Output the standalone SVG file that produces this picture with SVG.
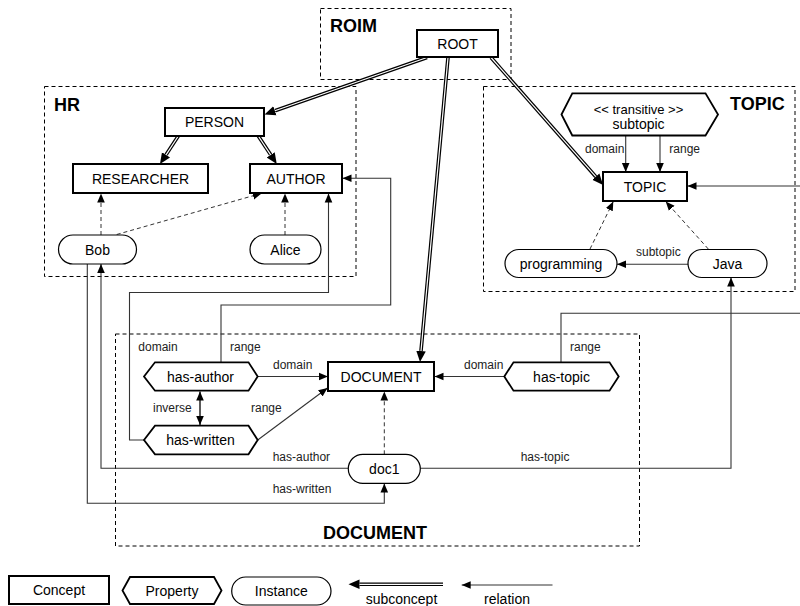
<svg xmlns="http://www.w3.org/2000/svg" width="800" height="606" viewBox="0 0 800 606">
<style>
text{font-family:"Liberation Sans",Arial,sans-serif;fill:#000}
.lbl{font-size:14px;text-anchor:middle}
.sm{font-size:12px;fill:#222}
.reg{font-size:18px;font-weight:bold}
.region{fill:none;stroke:#000;stroke-width:1;stroke-dasharray:4,3}
.concept{fill:#fff;stroke:#000;stroke-width:2}
.prop{fill:#fff;stroke:#000;stroke-width:1.8;stroke-linejoin:miter}
.inst{fill:#fff;stroke:#000;stroke-width:1.2}
.rel{fill:none;stroke:#333;stroke-width:1.1;marker-end:url(#arr)}
.inv{fill:none;stroke:#000;stroke-width:1.3;marker-end:url(#arr);marker-start:url(#arrs)}
.io{fill:none;stroke:#333;stroke-width:1;stroke-dasharray:4,3;marker-end:url(#arr)}
.subo{fill:none;stroke:#000;stroke-width:3.6;marker-end:url(#sub)}
.subi{fill:none;stroke:#fff;stroke-width:1.2}
</style>
<defs>
<marker id="arr" viewBox="0 -5 10 10" refX="9" refY="0" markerWidth="10" markerHeight="10" markerUnits="userSpaceOnUse" orient="auto"><path d="M0,-3.8 L9,0 L0,3.8 z" fill="#000"/></marker>
<marker id="arrs" viewBox="0 -5 10 10" refX="9" refY="0" markerWidth="10" markerHeight="10" markerUnits="userSpaceOnUse" orient="auto-start-reverse"><path d="M0,-3.8 L9,0 L0,3.8 z" fill="#000"/></marker>
<marker id="sub" viewBox="0 -6 12 12" refX="0" refY="0" markerWidth="12" markerHeight="12" markerUnits="userSpaceOnUse" orient="auto"><path d="M0,-4.8 L11,0 L0,4.8 z" fill="#000"/></marker>
</defs>

<g id="regions">
<rect class="region" x="320.5" y="8.5" width="190.5" height="71"/>
<text class="reg" x="330" y="32">ROIM</text>
<rect class="region" x="44.5" y="86.5" width="311.5" height="190"/>
<text class="reg" x="54" y="110.5">HR</text>
<rect class="region" x="483.5" y="86.5" width="311.5" height="205"/>
<text class="reg" x="730" y="110">TOPIC</text>
<rect class="region" x="115.5" y="334" width="524" height="212"/>
<text class="reg" x="323" y="539">DOCUMENT</text>
</g>

<g id="connectors">
<!-- subconcept -->
<path class="subo" d="M427,57.5 L274.9,110.8"/><path class="subi" d="M427,57.5 L274.9,110.8"/>
<path class="subo" d="M448,57.5 L421,351"/><path class="subi" d="M448,57.5 L421,351"/>
<path class="subo" d="M491,57.5 L595.8,176.7"/><path class="subi" d="M491,57.5 L595.8,176.7"/>
<path class="subo" d="M178.3,136 L166,154.8"/><path class="subi" d="M178.3,136 L166,154.8"/>
<path class="subo" d="M258.3,136 L270.7,154.8"/><path class="subi" d="M258.3,136 L270.7,154.8"/>
<!-- relations -->
<path class="rel" d="M144,440 H129.5 V292.5 H328.5 V193.5"/>
<path class="rel" d="M221,362.3 V305 H390.7 V178.3 H342.5"/>
<path class="rel" d="M257.7,376.5 H328"/>
<path class="rel" d="M257.7,440 L327.5,388"/>
<path class="rel" d="M504.3,376.5 H434.5"/>
<path class="rel" d="M561,362.3 V313.3 H804 V186 H687.5"/>
<path class="inv" d="M200,391.5 V425"/>
<path class="rel" d="M625.7,135.5 V172"/>
<path class="rel" d="M660,135.5 V172"/>
<path class="rel" d="M688,264.3 H617"/>
<path class="rel" d="M348.3,468.3 H101 V264"/>
<path class="rel" d="M87.3,264 V503.3 H384.3 V483.5"/>
<path class="rel" d="M420,468.3 H731 V277.5"/>
<!-- instance of -->
<path class="io" d="M101,235 V193.5"/>
<path class="io" d="M116.7,234.5 L261.7,193.3"/>
<path class="io" d="M285,235 V193.5"/>
<path class="io" d="M590,249 L613.3,201.5"/>
<path class="io" d="M708.3,249 L665.7,201.5"/>
<path class="io" d="M384.3,454.3 V391.5"/>
</g>

<g id="connector-labels">
<text class="sm" x="138.3" y="351">domain</text>
<text class="sm" x="230" y="351">range</text>
<text class="sm" x="273" y="369">domain</text>
<text class="sm" x="153" y="411.5">inverse</text>
<text class="sm" x="251" y="411.5">range</text>
<text class="sm" x="272.7" y="460.5">has-author</text>
<text class="sm" x="272.7" y="493">has-written</text>
<text class="sm" x="464" y="369">domain</text>
<text class="sm" x="570" y="351">range</text>
<text class="sm" x="520.7" y="460.5">has-topic</text>
<text class="sm" x="585" y="153">domain</text>
<text class="sm" x="669.3" y="153">range</text>
<text class="sm" x="636" y="256">subtopic</text>
</g>

<g id="ROOT"><rect class="concept" x="417" y="30" width="81" height="27"/><text class="lbl" x="457.5" y="48.5">ROOT</text></g>
<g id="PERSON"><rect class="concept" x="165" y="108" width="99" height="28"/><text class="lbl" x="214.5" y="127">PERSON</text></g>
<g id="RESEARCHER"><rect class="concept" x="73" y="164" width="135" height="29"/><text class="lbl" x="140.5" y="183.5">RESEARCHER</text></g>
<g id="AUTHOR"><rect class="concept" x="250" y="164" width="92" height="29"/><text class="lbl" x="296" y="183.5">AUTHOR</text></g>
<g id="Bob"><rect class="inst" x="58.5" y="235" width="78" height="29" rx="14.5"/><text class="lbl" x="97.5" y="254.5">Bob</text></g>
<g id="Alice"><rect class="inst" x="250" y="235" width="71" height="29" rx="14.5"/><text class="lbl" x="285.5" y="254.5">Alice</text></g>
<g id="subtopic-prop"><polygon class="prop" points="561.5,114.5 572.3,93.3 705.5,93.3 718,114.5 705.5,135.5 572.3,135.5"/><text class="lbl" x="638.5" y="113.5" style="font-size:13px">&lt;&lt; transitive &gt;&gt;</text><text class="lbl" x="638.5" y="129">subtopic</text></g>
<g id="TOPIC"><rect class="concept" x="603" y="172" width="84" height="29"/><text class="lbl" x="645" y="191.5">TOPIC</text></g>
<g id="programming"><rect class="inst" x="505" y="249.5" width="112" height="28" rx="14"/><text class="lbl" x="561" y="268.5">programming</text></g>
<g id="Java"><rect class="inst" x="688" y="249.5" width="79" height="28" rx="14"/><text class="lbl" x="727.5" y="268.5">Java</text></g>
<g id="DOCUMENT"><rect class="concept" x="328" y="362" width="106" height="29"/><text class="lbl" x="381" y="381.5">DOCUMENT</text></g>
<g id="has-author"><polygon class="prop" points="144,376.5 155,362.3 248.5,362.3 257.7,376.5 248.5,390.7 155,390.7"/><text class="lbl" x="200.5" y="381.5">has-author</text></g>
<g id="has-written"><polygon class="prop" points="144,440 155,425.7 248.5,425.7 257.7,440 248.5,454.3 155,454.3"/><text class="lbl" x="200.5" y="445">has-written</text></g>
<g id="has-topic"><polygon class="prop" points="504.3,376.5 513.5,362.3 609.5,362.3 618.7,376.5 609.5,390.7 513.5,390.7"/><text class="lbl" x="561.5" y="381.5">has-topic</text></g>
<g id="doc1"><rect class="inst" x="348.3" y="454.3" width="72" height="29" rx="14.5"/><text class="lbl" x="384.3" y="473.8">doc1</text></g>

<g id="legend">
<rect class="concept" x="9" y="576" width="100" height="28"/><text class="lbl" x="59" y="595">Concept</text>
<polygon class="prop" points="122.5,590.5 130,577 214,577 221.5,590.5 214,604 130,604"/><text class="lbl" x="172" y="595.5">Property</text>
<rect class="inst" x="231.7" y="577" width="99.3" height="28" rx="14"/><text class="lbl" x="281.3" y="595.5">Instance</text>
<path class="subo" d="M443,584.3 H359.5"/><path class="subi" d="M443,584.3 H359.5"/>
<text class="lbl" x="401.5" y="603.5">subconcept</text>
<path class="rel" d="M552.5,585 H461.7"/>
<text class="lbl" x="507" y="603.5">relation</text>
</g>
</svg>
